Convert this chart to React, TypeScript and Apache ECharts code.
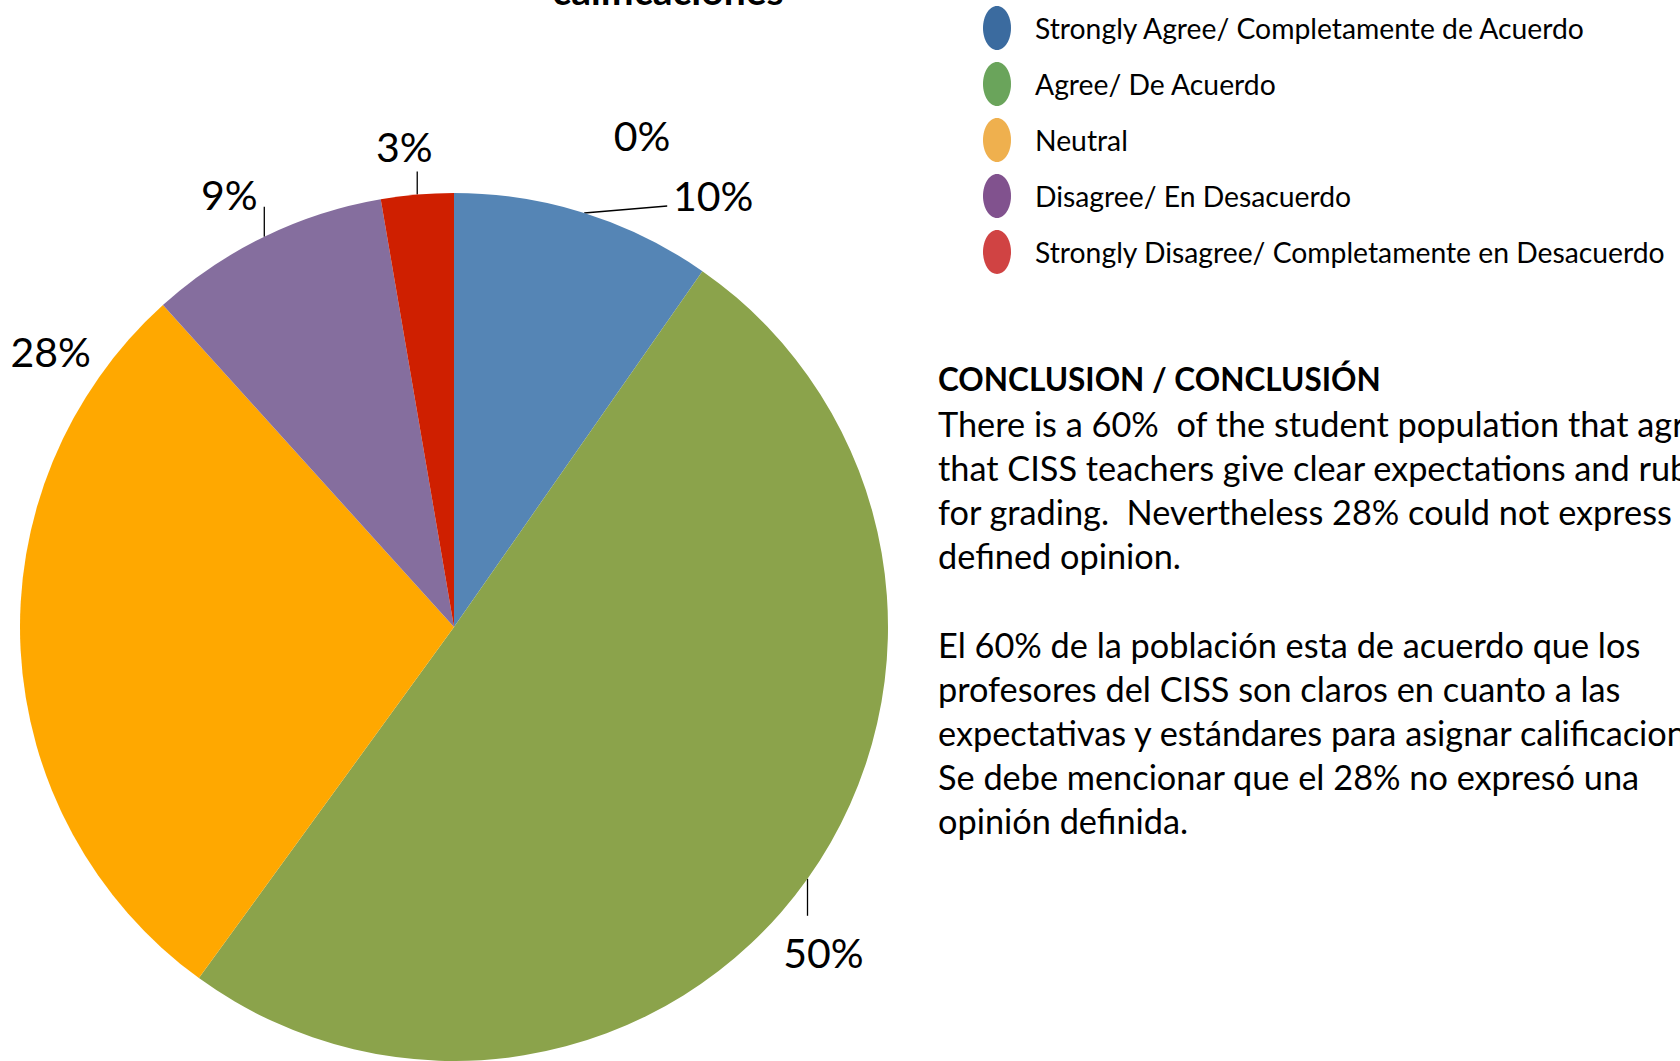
import React, { useEffect, useRef } from 'react';
import * as echarts from 'echarts';

// ---- data ----
const CATEGORIES = [
  '',
  'Strongly Agree/ Completamente de Acuerdo',
  'Agree/ De Acuerdo',
  'Neutral',
  'Disagree/ En Desacuerdo',
  'Strongly Disagree/ Completamente en Desacuerdo',
];
const VALUES = [0, 9.7, 50.3, 28.3, 9.0, 2.7];
const SLICE_COLORS = ['#5585b5', '#5585b5', '#8ba34b', '#ffa800', '#856e9e', '#cf1f00'];
const LEGEND_NAMES = CATEGORIES.slice(1);
const LEGEND_COLORS = ['#3b6b9f', '#6aa45b', '#efb04e', '#81528e', '#d04343'];

const TITLE_TEXT = 'calificaciones';
const CONCLUSION_HEADING = 'CONCLUSION / CONCLUSIÓN';
const CONCLUSION_LINES = [
  'There is a 60%  of the student population that agrees',
  'that CISS teachers give clear expectations and rubrics',
  'for grading.  Nevertheless 28% could not express a',
  'defined opinion.',
  '',
  'El 60% de la población esta de acuerdo que los',
  'profesores del CISS son claros en cuanto a las',
  'expectativas y estándares para asignar calificaciones.',
  'Se debe mencionar que el 28% no expresó una',
  'opinión definida.',
];

// ---- label placement styling (offsets from the slice's arc anchor) ----
const LABEL_OFFSETS: { dx: number; dy: number; line: number[] | null }[] = [
  { dx: 188, dy: -58, line: null },
  { dx: 129, dy: -17, line: [83, -7] },
  { dx: 16, dy: 74, line: [0, 37] },
  { dx: 30, dy: -299, line: null },
  { dx: -35, dy: -42, line: [0, -30] },
  { dx: -13, dy: -48, line: [0, -23] },
];

const BODY_FONT = 'Lato, "Open Sans", sans-serif';
const LEGEND_FONT = 'Lato, "Open Sans", sans-serif';

export default function App() {
  const ref = useRef<HTMLDivElement>(null);

  useEffect(() => {
    if (!ref.current) return;
    const chart = echarts.init(ref.current, null, { renderer: 'svg' });

    const option: any = {
      animation: false,
      backgroundColor: '#ffffff',
      legend: {
        orient: 'vertical',
        left: 983,
        top: 6,
        padding: 0,
        itemWidth: 28,
        itemHeight: 44,
        itemGap: 12,
        selectedMode: false,
        icon: 'path://M14,0 C21.7,0 28,9.8 28,22 C28,34.2 21.7,44 14,44 C6.3,44 0,34.2 0,22 C0,9.8 6.3,0 14,0 Z',
        textStyle: {
          fontFamily: LEGEND_FONT,
          fontSize: 28.3,
          color: '#000',
          padding: [0, 0, 4, 19],
        },
        data: LEGEND_NAMES.map((n, i) => ({ name: n, itemStyle: { color: LEGEND_COLORS[i] } })),
      },
      graphic: [
        {
          type: 'text',
          x: 668,
          y: -10,
          style: {
            text: TITLE_TEXT,
            font: `bold 39px ${BODY_FONT}`,
            fill: '#000',
            align: 'center',
            verticalAlign: 'middle',
          },
        },
        {
          type: 'text',
          x: 938,
          y: 379,
          style: {
            text: CONCLUSION_HEADING,
            font: `bold 31.5px ${BODY_FONT}`,
            fill: '#000',
            align: 'left',
            verticalAlign: 'middle',
          },
        },
        {
          type: 'text',
          x: 938,
          y: 401,
          style: {
            text: CONCLUSION_LINES.join('\n'),
            font: `34.3px ${BODY_FONT}`,
            lineHeight: 44.2,
            fill: '#000',
            align: 'left',
            verticalAlign: 'top',
          },
        },
      ],
      series: [
        {
          type: 'pie',
          center: [454, 627],
          radius: 434,
          startAngle: 90,
          clockwise: true,
          avoidLabelOverlap: false,
          percentPrecision: 0,
          emphasis: { disabled: true },
          silent: true,
          label: {
            show: true,
            position: 'outside',
            formatter: '{d}%',
            fontFamily: BODY_FONT,
            fontSize: 41,
            color: '#000',
          },
          labelLine: {
            show: true,
            length: 15,
            length2: 10,
            lineStyle: { color: '#000', width: 1.3 },
          },
          labelLayout: (params: any) => {
            const idx = params.dataIndex;
            const cfg = LABEL_OFFSETS[idx];
            const pts = params.labelLinePoints;
            if (!cfg || !pts || !pts.length) return {};
            const ax = pts[0][0];
            const ay = pts[0][1];
            const end = cfg.line ? [ax + cfg.line[0], ay + cfg.line[1]] : [ax, ay];
            return {
              x: ax + cfg.dx,
              y: ay + cfg.dy,
              align: 'center',
              verticalAlign: 'middle',
              labelLinePoints: [[ax, ay], end, end],
            };
          },
          itemStyle: { borderWidth: 0 },
          data: VALUES.map((v, i) => ({
            name: CATEGORIES[i],
            value: v,
            itemStyle: { color: SLICE_COLORS[i] },
          })),
        },
      ],
    };

    chart.setOption(option);
    return () => chart.dispose();
  }, []);

  return (
    <div
      ref={ref}
      style={{ position: 'fixed', left: 0, top: 0, width: 1680, height: 1061, background: '#fff' }}
    />
  );
}
